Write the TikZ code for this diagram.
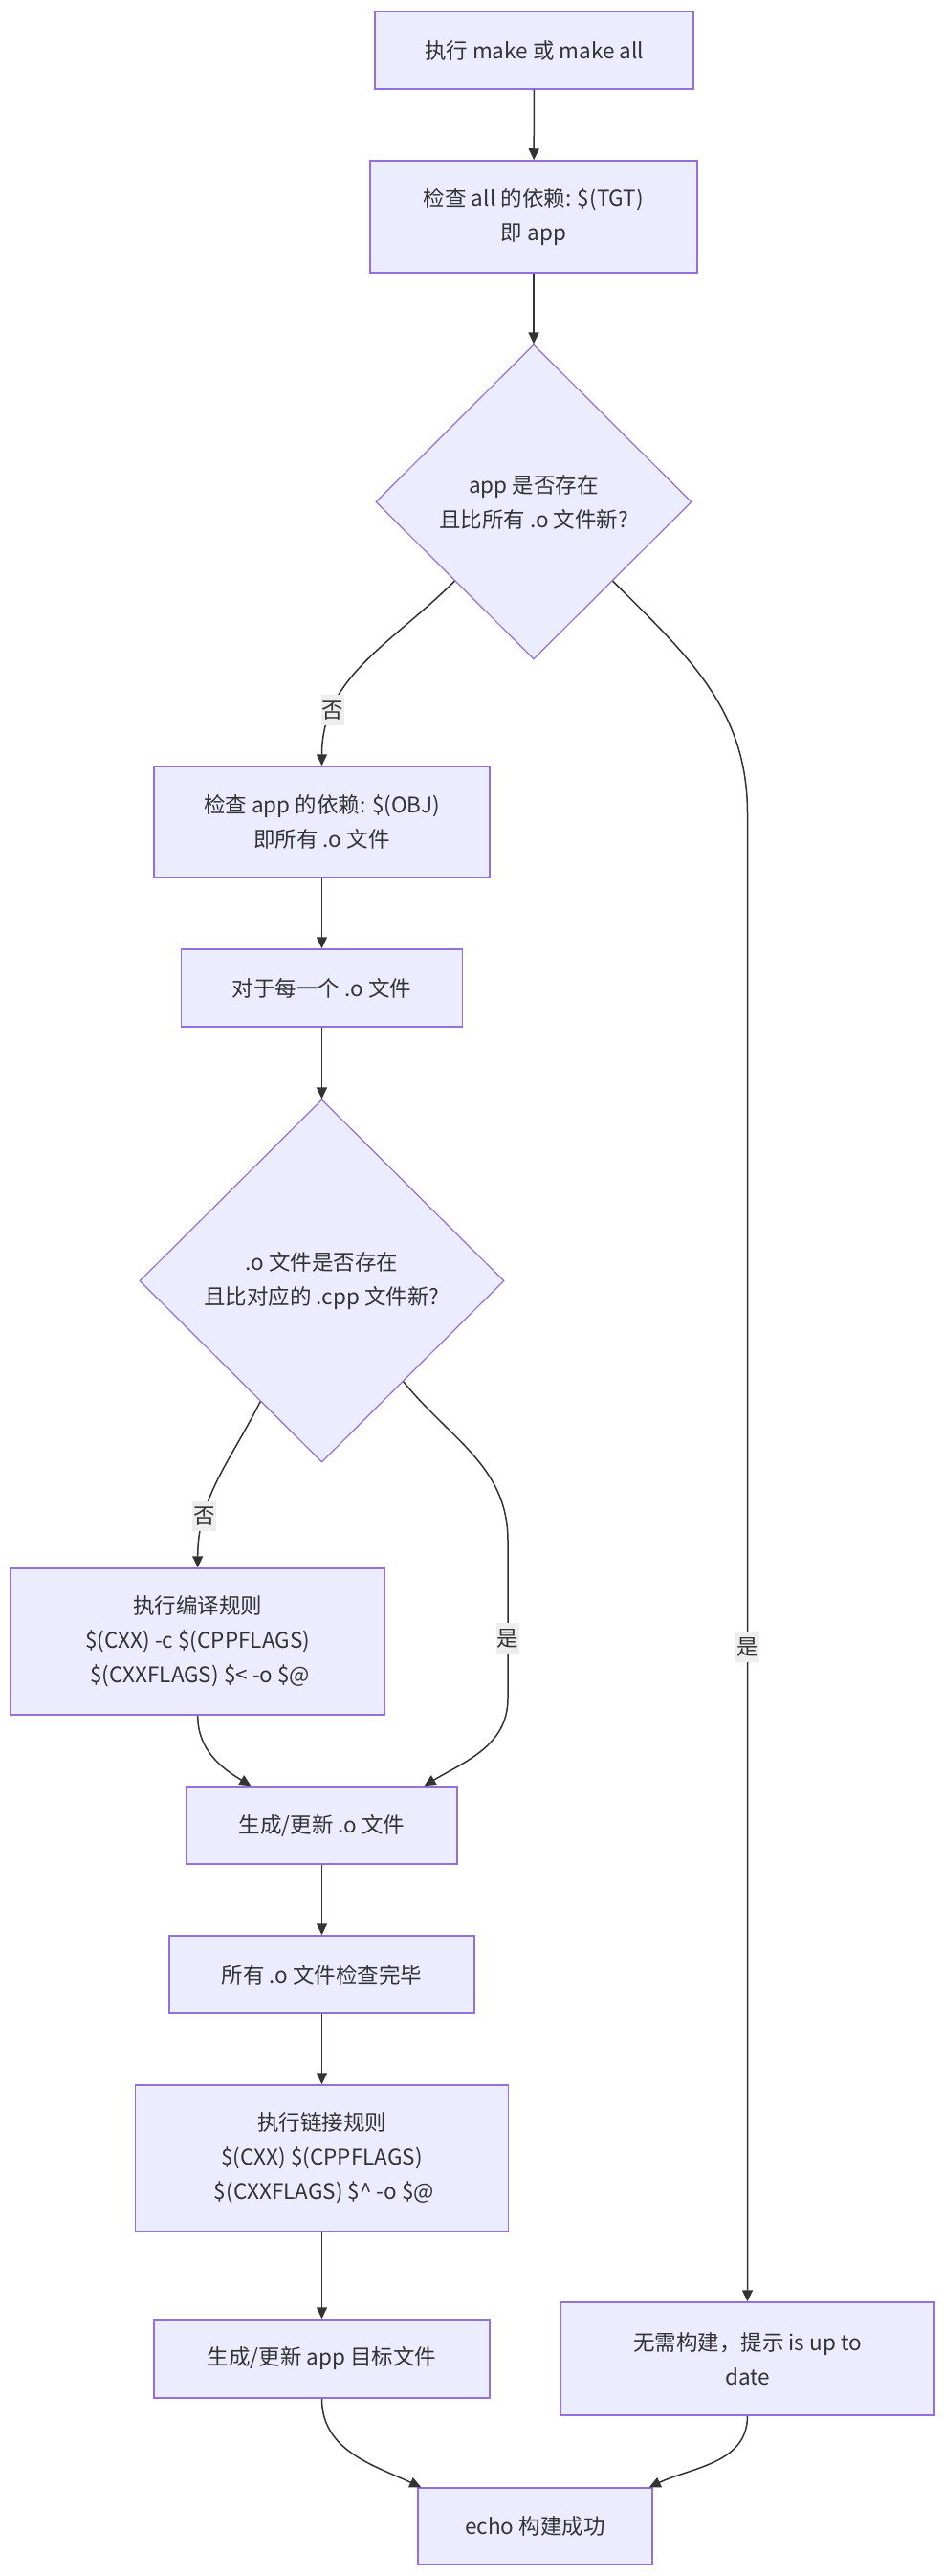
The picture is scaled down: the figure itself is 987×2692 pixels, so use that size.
\documentclass[tikz,border=0pt]{standalone}
\usepackage{fontspec}
\setmainfont{Noto Sans CJK SC}
\definecolor{nodefill}{RGB}{236, 236, 255}
\definecolor{nodeline}{RGB}{147, 112, 219}
\definecolor{inkgray}{RGB}{51, 51, 51}
\definecolor{lblfill}{RGB}{237, 237, 237}
\usetikzlibrary{shapes.geometric, arrows.meta, positioning, calc}

\begin{document}
\begin{tikzpicture}[
  x=1pt, y=1pt,
  stepbox/.style={draw=nodeline, line width=1.5pt, fill=nodefill, text=inkgray, align=center, inner sep=0pt, font=\fontsize{22.5}{36}\selectfont},
  testbox/.style={diamond, aspect=1, draw=nodeline, line width=1.2pt, fill=nodefill, text=inkgray, align=center, inner sep=0pt, font=\fontsize{22.5}{36}\selectfont},
  arr/.style={draw=inkgray, line width=1.5pt, -{Triangle[length=12pt, width=11pt]}},
  lbl/.style={fill=lblfill, text=inkgray, inner xsep=1pt, inner ysep=6pt, font=\fontsize{22.5}{36}\selectfont}
]
  \useasboundingbox (0,0) rectangle (987,-2692);

  \node[stepbox, minimum width=333pt, minimum height=81pt] (start) at (558.5,-52.5) {执行 make 或 make all};
  \node[stepbox, minimum width=342pt, minimum height=117pt] (chkall) at (558,-226.5) {检查 all 的依赖: \$(TGT)\\即 app};
  \node[testbox, minimum width=330pt, minimum height=329pt] (appok) at (558,-524.5) {app 是否存在\\且比所有 .o 文件新?};
  \node[stepbox, minimum width=351pt, minimum height=116pt] (chkapp) at (336.5,-859) {检查 app 的依赖: \$(OBJ)\\即所有 .o 文件};
  \node[stepbox, minimum width=294pt, minimum height=81pt] (foreach) at (336.5,-1032.5) {对于每一个 .o 文件};
  \node[testbox, minimum width=381pt, minimum height=379pt] (objok) at (336.5,-1338.5) {.o 文件是否存在\\且比对应的 .cpp 文件新?};
  \node[stepbox, minimum width=391pt, minimum height=153pt] (compile) at (206.7,-1715.5) {执行编译规则\\\$(CXX) -c \$(CPPFLAGS)\\~\$(CXXFLAGS) \$< -o \$@};
  \node[stepbox, minimum width=283pt, minimum height=81pt] (genobj) at (336.5,-1907.5) {生成/更新 .o 文件};
  \node[stepbox, minimum width=319pt, minimum height=81pt] (alldone) at (336.5,-2063.5) {所有 .o 文件检查完毕};
  \node[stepbox, minimum width=390pt, minimum height=153pt] (link) at (336.5,-2255.5) {执行链接规则\\\$(CXX) \$(CPPFLAGS)\\~\$(CXXFLAGS) \$\textasciicircum{} -o \$@};
  \node[stepbox, minimum width=351pt, minimum height=82pt] (genapp) at (336.5,-2465) {生成/更新 app 目标文件};
  \node[stepbox, minimum width=391pt, minimum height=118pt] (uptodate) at (781.5,-2465) {无需构建，提示 is up to\\date};
  \node[stepbox, minimum width=245pt, minimum height=80pt] (echo) at (559.5,-2640) {echo 构建成功};

  \coordinate (r1) at (781.5,-850);
  \coordinate (r2a) at (531,-1610);
  \coordinate (r2b) at (531,-1775);

  \draw[arr] (start) -- (chkall);
  \draw[arr] (chkall) -- (appok);
  \draw[arr] (appok.-135) to[out=-135, in=90] node[lbl, pos=0.76] {否} (chkapp);
  \draw[arr] (appok.-45) to[out=-45, in=90] (r1) -- node[lbl, pos=0.56] {是} (uptodate);
  \draw[arr] (chkapp) -- (foreach);
  \draw[arr] (foreach) -- (objok);
  \draw[arr] (objok.-117) to[out=-117, in=90] node[lbl, pos=0.72] {否} (compile);
  \draw[arr] (objok.-51) to[out=-51, in=90] (r2a) -- node[lbl, pos=0.62] {是} (r2b) to[out=-90, in=31] ([xshift=107pt]genobj.north);
  \draw[arr] (compile) to[out=-90, in=149] ([xshift=-74pt]genobj.north);
  \draw[arr] (genobj) -- (alldone);
  \draw[arr] (alldone) -- (link);
  \draw[arr] (link) -- (genapp);
  \draw[arr] (genapp) to[out=-90, in=155] ([xshift=4pt]echo.north west);
  \draw[arr] (uptodate) to[out=-90, in=25] ([xshift=-4pt]echo.north east);
\end{tikzpicture}
\end{document}
